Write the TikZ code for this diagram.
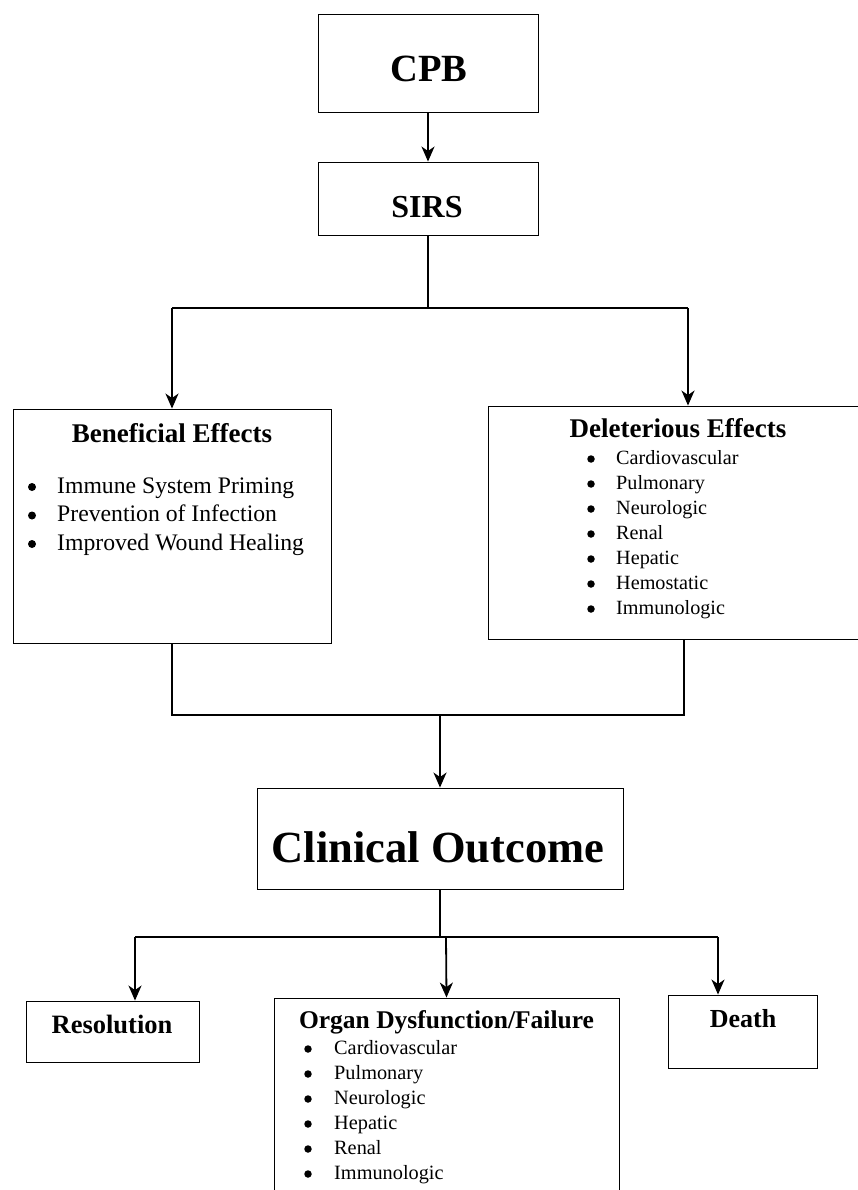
\documentclass[tikz,border=0pt]{standalone}
\usepackage{fontspec}
\setmainfont{Liberation Serif}
\usetikzlibrary{arrows.meta}
\tikzset{
  box/.style={draw, line width=0.9pt, inner sep=0pt, rectangle},
  conn/.style={line width=1.8pt},
  arr/.style={line width=1.8pt, -{Stealth[length=15pt,width=13pt,inset=4.5pt]}},
  txt/.style={inner sep=0pt, anchor=base},
  lst/.style={inner sep=0pt, anchor=base west},
  dot/.style={circle, fill=black, draw=none, inner sep=0pt, minimum size=#1}
}
\begin{document}
\begin{tikzpicture}[x=1pt,y=-1pt]
\useasboundingbox (0,0) rectangle (858,1190);
\clip (0,0) rectangle (858,1190);
% boxes
\node[box, minimum width=220pt, minimum height=98pt] (cpb) at (428,63) {};
\node[box, minimum width=220pt, minimum height=73pt] (sirs) at (428,198.5) {};
\node[box, minimum width=318pt, minimum height=234pt] (ben) at (172,526) {};
\node[box, minimum width=382pt, minimum height=233pt] (del) at (679,522.5) {};
\node[box, minimum width=366pt, minimum height=101pt] (clin) at (440,838.5) {};
\node[box, minimum width=173pt, minimum height=61pt] (res) at (112.5,1031.5) {};
\node[box, minimum width=345pt, minimum height=210pt] (org) at (446.5,1103) {};
\node[box, minimum width=149pt, minimum height=73pt] (death) at (742.5,1031.5) {};
% titles
\node[txt] (tcpb) at (429,82) {\fontsize{38.5}{44}\selectfont\bfseries CPB};
\node[txt] (tsirs) at (427,218) {\fontsize{32}{36}\selectfont\bfseries SIRS};
\node[txt] (tben) at (172,442) {\fontsize{27}{30}\selectfont\bfseries Beneficial Effects};
\node[txt] (tdel) at (678,437) {\fontsize{27}{30}\selectfont\bfseries Deleterious Effects};
\node[txt] (tclin) at (438,862) {\fontsize{44.5}{50}\selectfont\bfseries Clinical Outcome};
\node[txt] (tres) at (112,1033) {\fontsize{26.5}{30}\selectfont\bfseries Resolution};
\node[txt] (torg) at (446.5,1028) {\fontsize{25.5}{30}\selectfont\bfseries Organ Dysfunction/Failure};
\node[txt] (tdeath) at (743,1027) {\fontsize{26}{30}\selectfont\bfseries Death};
% lists
\node[lst] (lben) at (57,493) {\fontsize{23.7}{28.5}\selectfont
  \begin{tabular}[t]{@{}l@{}}
  Immune System Priming\\
  Prevention of Infection\\
  Improved Wound Healing
  \end{tabular}};
\node[lst] (ldel) at (616,464) {\fontsize{20.2}{25}\selectfont
  \begin{tabular}[t]{@{}l@{}}
  Cardiovascular\\
  Pulmonary\\
  Neurologic\\
  Renal\\
  Hepatic\\
  Hemostatic\\
  Immunologic
  \end{tabular}};
\node[lst] (lorg) at (334,1054) {\fontsize{20.3}{25}\selectfont
  \begin{tabular}[t]{@{}l@{}}
  Cardiovascular\\
  Pulmonary\\
  Neurologic\\
  Hepatic\\
  Renal\\
  Immunologic
  \end{tabular}};
% bullets
\foreach \i in {0,1,2} \node[dot=8pt] (bb\i) at (32,{487+28.5*\i}) {};
\foreach \i in {0,...,6} \node[dot=7.5pt] (bd\i) at (591,{459+25*\i}) {};
\foreach \i in {0,...,5} \node[dot=7.5pt] (bo\i) at (308,{1049+25*\i}) {};
% connectors
\coordinate (j1) at (428,308);
\coordinate (j1l) at (172,308);
\coordinate (j1r) at (688,308);
\coordinate (j2l) at (172,715);
\coordinate (j2r) at (684,715);
\coordinate (j2) at (440,715);
\coordinate (j3) at (440,937);
\coordinate (j3l) at (135,937);
\coordinate (j3m) at (446,937);
\coordinate (j3r) at (718,937);
\draw[arr] (cpb) -- (sirs);
\draw[conn] (sirs.south) -- (j1);
\draw[conn] (j1l) -- (j1r);
\draw[arr] (j1l) -- (ben.north);
\draw[arr] (j1r) -- (j1r |- del.north);
\draw[conn] (ben.south) -- (j2l) -- (j2r) -- (j2r |- del.south);
\draw[arr] (j2) -- (clin.north);
\draw[conn] (clin.south) -- (j3);
\draw[conn] (j3l) -- (j3r);
\draw[arr] (j3l) -- (j3l |- res.north);
\draw[arr] (j3m) -- (org.north);
\draw[arr] (j3r) -- (j3r |- death.north);
\end{tikzpicture}
\end{document}
